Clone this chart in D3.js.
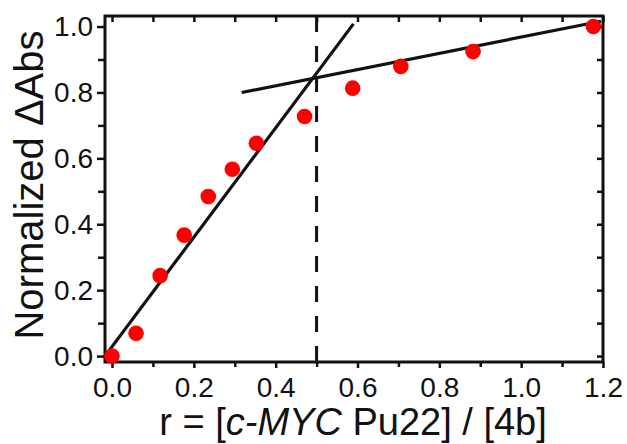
<!DOCTYPE html>
<html><head><meta charset="utf-8">
<script src="https://cdn.jsdelivr.net/npm/d3@7"></script>
<style>
html,body{margin:0;padding:0;background:#fff;}
text{font-family:"Liberation Sans",Arial,sans-serif;fill:#111;}
</style></head>
<body><svg id="c" width="627" height="444"></svg>
<script>
const rValues = [0, 0.0588, 0.1176, 0.1765, 0.2353, 0.2941, 0.3529, 0.4706, 0.5882, 0.7059, 0.8824, 1.1765];
const absValues = [0.0, 0.069, 0.244, 0.367, 0.484, 0.567, 0.646, 0.727, 0.813, 0.879, 0.924, 1.0];
const fitLine1 = [[-0.01, 0.012], [0.59, 1.008]];
const fitLine2 = [[0.317, 0.80], [1.195, 1.016]];
const breakPoint = [0.5];
const xTicks = [0, 0.2, 0.4, 0.6, 0.8, 1.0, 1.2];
const yTicks = [0, 0.2, 0.4, 0.6, 0.8, 1.0];
const xMinor = [0.1, 0.3, 0.5, 0.7, 0.9, 1.1];
const yMinor = [0.1, 0.3, 0.5, 0.7, 0.9];

const svg = d3.select("#c");
const L = 105, R = 603, T = 16, B = 362;
const x = d3.scaleLinear().domain([-0.0171, 1.2]).range([L, R]);
const y = d3.scaleLinear().domain([-0.018, 1.032]).range([B, T]);

const g = svg.append("g");
const fmt = d3.format(".1f");

// bottom axis (outward ticks)
g.append("g").attr("transform", `translate(0,${B})`)
  .call(d3.axisBottom(x).tickValues(xTicks).tickSize(6).tickPadding(9).tickFormat(fmt));
g.append("g").attr("transform", `translate(0,${B})`)
  .call(d3.axisBottom(x).tickValues(xMinor).tickSize(5).tickFormat(""));
// left axis
g.append("g").attr("transform", `translate(${L},0)`)
  .call(d3.axisLeft(y).tickValues(yTicks).tickSize(8).tickPadding(4).tickFormat(fmt));
g.append("g").attr("transform", `translate(${L},0)`)
  .call(d3.axisLeft(y).tickValues(yMinor).tickSize(7).tickFormat(""));
// top axis (inward ticks)
g.append("g").attr("transform", `translate(0,${T})`)
  .call(d3.axisTop(x).tickValues(xTicks.concat(xMinor)).tickSize(-6).tickFormat(""));
// right axis (inward ticks)
g.append("g").attr("transform", `translate(${R},0)`)
  .call(d3.axisRight(y).tickValues(yTicks.concat(yMinor)).tickSize(-6).tickFormat(""));

g.selectAll(".domain").remove();
g.selectAll(".tick line").attr("stroke", "#111").attr("stroke-width", 2.5);
g.selectAll(".tick text").attr("font-size", 28).attr("fill", "#222")
  .style("font-family", "'Liberation Sans', Arial, sans-serif");

// frame
svg.append("rect").attr("x", L).attr("y", T).attr("width", R - L).attr("height", B - T)
  .attr("fill", "none").attr("stroke", "#111").attr("stroke-width", 3);

// dashed vertical
svg.selectAll(".vline").data(breakPoint).enter().append("line")
  .attr("x1", d => x(d)).attr("x2", d => x(d)).attr("y1", B).attr("y2", T)
  .attr("stroke", "#111").attr("stroke-width", 3).attr("stroke-dasharray", "16,14");

// fit lines
const line = d3.line().x(d => x(d[0])).y(d => y(d[1]));
svg.selectAll(".fit").data([fitLine1, fitLine2]).enter().append("path")
  .attr("d", line).attr("fill", "none").attr("stroke", "#111").attr("stroke-width", 3.2);

// points
svg.selectAll(".pt").data(rValues.map((r, i) => [r, absValues[i]])).enter().append("circle")
  .attr("cx", d => x(d[0])).attr("cy", d => y(d[1])).attr("r", 7.8).attr("fill", "#ff0000");

// axis titles
const xl = svg.append("text").attr("x", 353).attr("y", 435).attr("text-anchor", "middle")
  .attr("font-size", 38);
xl.append("tspan").text("r = [");
xl.append("tspan").attr("font-style", "italic").text("c-MYC");
xl.append("tspan").text(" Pu22] / [4b]");

svg.append("text").attr("transform", "translate(43,185) rotate(-90)").attr("text-anchor", "middle")
  .attr("font-size", 40).text("Normalized ΔAbs");
</script></body></html>
